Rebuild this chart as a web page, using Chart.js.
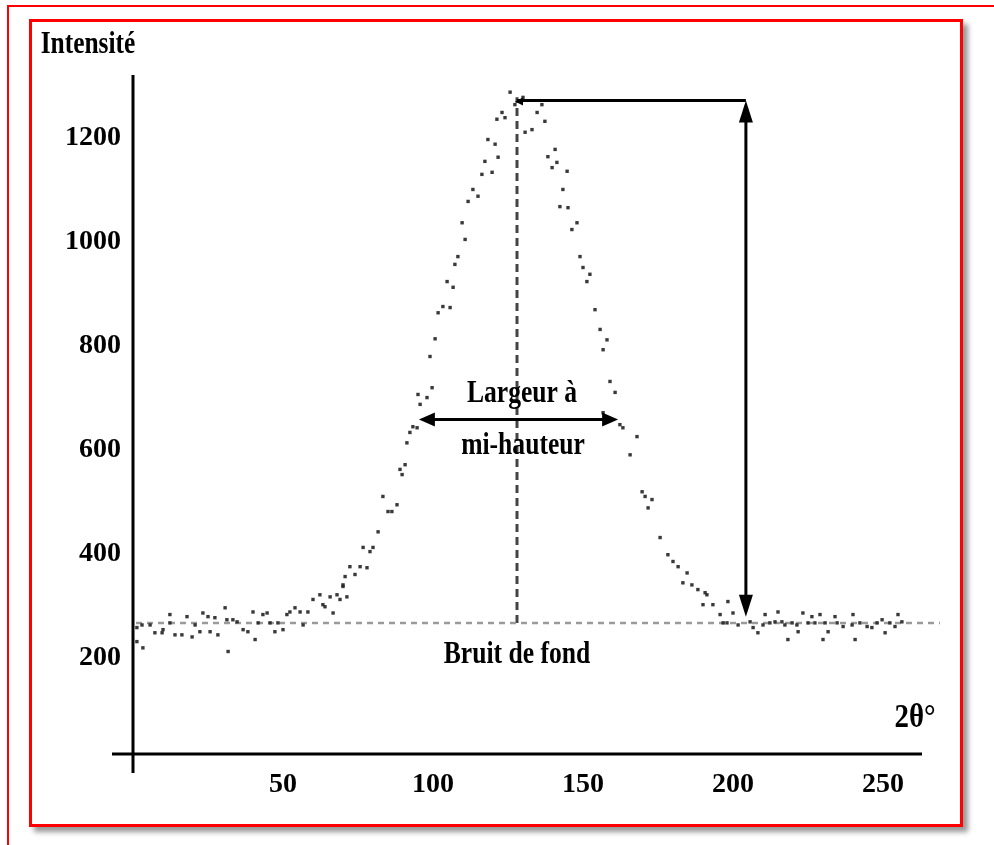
<!DOCTYPE html>
<html>
<head>
<meta charset="utf-8">
<script src="https://cdn.jsdelivr.net/npm/chart.js@4/dist/chart.umd.min.js"></script>
<style>
    body { margin: 0; background: #fff; width: 994px; height: 845px; position: relative; overflow: hidden; }
    .outer { position: absolute; left: 7px; top: 5px; right: -10px; bottom: -10px; border-top: 2px solid #f00; border-left: 2px solid #f00; }
    .inner { position: absolute; left: 29px; top: 19px; width: 928px; height: 802px; border: 3px solid #f00; background: #fff; box-shadow: 5px 5px 5px #999; }
    #chart { position: absolute; left: 0; top: 0; z-index: 2; }
</style>
</head>
<body>
<div class="outer"></div>
<div class="inner"></div>
<canvas id="chart" width="994" height="845"></canvas>
<script>
// measured points (2θ, intensité)
const baselineLeft = [
    [1.3,258],[1.3,231],[3.3,219],[3,263],[5.7,263],[7.3,248],[9.7,248],[10,254],[12.3,283],[12.3,267],
    [14,244],[16.3,244],[18,279],[19.7,240],[20.7,263],[22.3,250],[23.3,286],[25,279],[25.7,250],[27.3,277],
    [28.3,244],[30.7,296],[31.3,273],[31.7,212],[33.3,273],[34.7,269],[36.7,254],[38.3,250],[40,288],[40.7,235],
    [41.7,267],[43.3,283],[44.7,286],[45.7,267],[47.3,250],[48.3,267],[50,254],[51.3,283],[52.3,288],[54,296],
    [55.7,288],[56.7,263],[58.3,288],[60,312],[62.3,321],[63.3,302],[64,298],[65.7,317],[66.7,286],[68,321],
    [69,312],[70,340],[71.3,317]
];
const peakRise = [
    [70,337],[70.7,356],[72.3,375],[74,360],[75.7,375],[76.7,412],[78,373],[79,404],[80,412],[81.7,442],
    [83.3,510],[85,481],[86.3,481],[88,494],[89,562],[89.7,552],[90.7,571],[91.3,613],[92.3,633],[93.3,644],
    [94.7,642],[95,706],[95.7,687],[98,700],[99,779],[99.7,719],[100.7,813],[101.7,863],[103.3,875],[104.7,923],
    [105.7,873],[106.7,912],[107.3,956],[108.3,971],[109.7,1036],[110.7,1004],[111.7,1077],[113.3,1100],[115,1087],
    [116.3,1129],[117.3,1154],[118.3,1196],[119.7,1133],[120.7,1187],[121.3,1235],[121.7,1162],[123,1248],
    [124,1238],[125.7,1287],[127.3,1263]
];
const peakFall = [
    [130,1277],[130.7,1210],[133,1215],[134.7,1248],[136.3,1263],[137.3,1231],[138.3,1163],[139.7,1142],
    [140.7,1177],[141.3,1152],[142.3,1067],[143.3,1100],[144.7,1135],[145,1065],[146.3,1023],[148,1036],
    [149,971],[150,950],[151.3,923],[152.3,937],[154,869],[155.7,831],[156.7,792],[158,811],[159,731],
    [160.7,710],[156.7,671],[162.3,648],[163.3,642],[165.7,590],[168,625],[169.7,519],[170.7,510],[171.7,488],
    [173,504],[175.7,431],[178.3,398],[180,385],[181.7,375],[183.3,344],[184.7,363],[186.3,340],[188.3,331],
    [190,302],[190.7,325],[191.3,321],[193.3,302],[195.7,283],[196.7,267],[198,267],[198.3,308],[200,286],
    [201.7,263]
];
const baselineRight = [
    [205.7,269],[206.7,258],[208.3,248],[210,263],[210.7,283],[212.3,267],[214,269],[215,288],[216.3,269],
    [217.3,263],[218.3,235],[219.7,267],[221.3,263],[221.7,250],[223.3,286],[225,267],[226.3,279],[227.3,267],
    [229,283],[230,235],[230.7,267],[231.7,250],[234,279],[234.7,267],[236.7,260],[239.7,263],[240,283],
    [240.7,235],[242.3,267],[244.7,260],[246.3,258],[248,267],[249.7,273],[250.7,248],[252.3,267],[254,260],
    [255,283],[256.3,269]
];

const xTicks = [50, 100, 150, 200, 250];
const yTicks = [200, 400, 600, 800, 1000, 1200];

// annotation values
const background = 267;
const bgLineEnd = 269;
const peakPos = 128;
const peakTop = 1271;
const heightArrowX = 204.3;
const heightArrowBottom = 279;
const halfLevel = 658;
const halfLeft = 95.3;
const halfRight = 161.7;

const toPts = arr => arr.map(p => ({ x: p[0], y: p[1] }));
const measured = toPts([...baselineLeft, ...peakRise, ...peakFall, ...baselineRight]);

const serif = '"Liberation Serif", "Times New Roman", serif';

function narrowText(ctx, text, x, y, size, sx) {
    ctx.save();
    ctx.translate(x, y);
    ctx.scale(sx, 1);
    ctx.font = 'bold ' + size + 'px ' + serif;
    ctx.fillStyle = '#000';
    ctx.textAlign = 'center';
    ctx.textBaseline = 'middle';
    ctx.fillText(text, 0, 0);
    ctx.restore();
}

function arrowHead(ctx, x, y, dir, len, half) {
    // tip at (x,y)
    ctx.beginPath();
    ctx.moveTo(x, y);
    if (dir === 'left') { ctx.lineTo(x + len, y - half); ctx.lineTo(x + len, y + half); }
    if (dir === 'right') { ctx.lineTo(x - len, y - half); ctx.lineTo(x - len, y + half); }
    if (dir === 'up') { ctx.lineTo(x - half, y + len); ctx.lineTo(x + half, y + len); }
    if (dir === 'down') { ctx.lineTo(x - half, y - len); ctx.lineTo(x + half, y - len); }
    ctx.closePath();
    ctx.fill();
}

const decor = {
    id: 'decor',
    afterDatasetsDraw(chart) {
        const ctx = chart.ctx;
        const xs = chart.scales.x, ys = chart.scales.y;
        const X = v => xs.getPixelForValue(v), Y = v => ys.getPixelForValue(v);
        ctx.save();
        ctx.strokeStyle = '#000';
        ctx.fillStyle = '#000';

        // axes, crossing a bit like the scan
        ctx.lineWidth = 3;
        ctx.beginPath();
        ctx.moveTo(X(0), chart.chartArea.top);
        ctx.lineTo(X(0), Y(ys.min) + 19);
        ctx.moveTo(X(0) - 21, Y(ys.min));
        ctx.lineTo(X(xs.max), Y(ys.min));
        ctx.stroke();

        // height arrow
        ctx.beginPath();
        ctx.moveTo(X(peakPos), Y(peakTop));
        ctx.lineTo(X(heightArrowX), Y(peakTop));
        ctx.moveTo(X(heightArrowX), Y(peakTop) + 10);
        ctx.lineTo(X(heightArrowX), Y(heightArrowBottom) - 10);
        ctx.stroke();
        arrowHead(ctx, X(peakPos) - 2, Y(peakTop) + 1, 'left', 8, 4);
        arrowHead(ctx, X(heightArrowX), Y(peakTop), 'up', 22, 7);
        arrowHead(ctx, X(heightArrowX), Y(heightArrowBottom), 'down', 22, 7);

        // FWHM arrow
        ctx.beginPath();
        ctx.moveTo(X(halfLeft) + 8, Y(halfLevel));
        ctx.lineTo(X(halfRight) - 8, Y(halfLevel));
        ctx.stroke();
        arrowHead(ctx, X(halfLeft), Y(halfLevel), 'left', 16, 7);
        arrowHead(ctx, X(halfRight), Y(halfLevel), 'right', 16, 7);

        // texts
        narrowText(ctx, 'Largeur à', 522, 394, 32, 0.8);
        narrowText(ctx, 'mi-hauteur', 523, 446, 32, 0.8);
        narrowText(ctx, 'Bruit de fond', 517, 655, 32, 0.8);
        narrowText(ctx, 'Intensité', 88, 45, 31, 0.82);
        narrowText(ctx, '2θ°', 915, 718, 34, 0.85);
        ctx.restore();
    }
};

const tickFont = { family: serif, size: 28, weight: 'bold' };

new Chart(document.getElementById('chart'), {
    type: 'scatter',
    data: {
        datasets: [
            {
                data: measured,
                pointStyle: 'rect',
                pointRadius: 2.4,
                borderWidth: 0,
                backgroundColor: 'rgba(35,35,35,0.9)'
            },
            {
                type: 'line',
                data: [{ x: 1, y: background }, { x: bgLineEnd, y: background }],
                borderColor: '#9a9a9a',
                borderWidth: 2.5,
                borderDash: [6, 5],
                pointRadius: 0,
                clip: false
            },
            {
                type: 'line',
                data: [{ x: peakPos, y: background }, { x: peakPos, y: peakTop + 6 }],
                borderColor: '#444',
                borderWidth: 3,
                borderDash: [8, 5],
                pointRadius: 0,
                clip: false
            }
        ]
    },
    options: {
        responsive: false,
        animation: false,
        layout: { padding: { left: 0, top: 75, right: 72, bottom: 0 } },
        plugins: { legend: { display: false }, tooltip: { enabled: false } },
        scales: {
            x: {
                type: 'linear',
                min: 0,
                max: 263,
                afterBuildTicks: s => { s.ticks = xTicks.map(v => ({ value: v })); },
                afterFit: s => { s.height = 91; },
                grid: { display: false, drawTicks: false },
                border: { display: false },
                ticks: { color: '#000', padding: 14, font: tickFont, callback: v => String(v) }
            },
            y: {
                type: 'linear',
                min: 15,
                max: 1320,
                afterBuildTicks: s => { s.ticks = yTicks.map(v => ({ value: v })); },
                afterFit: s => { s.width = 133; },
                grid: { display: false, drawTicks: false },
                border: { display: false },
                ticks: { color: '#000', padding: 12, font: tickFont, callback: v => String(v) }
            }
        }
    },
    plugins: [decor]
});
</script>
</body>
</html>
